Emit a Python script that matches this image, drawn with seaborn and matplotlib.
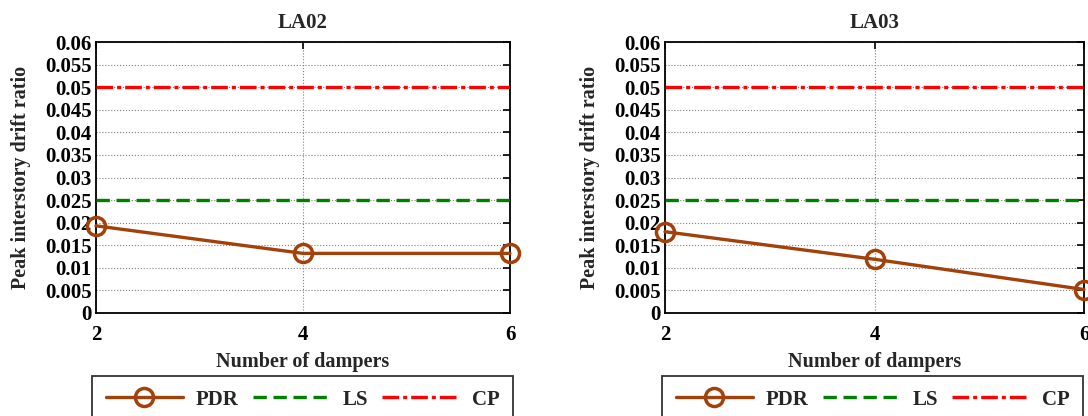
import numpy as np
import pandas as pd
import matplotlib
matplotlib.use("Agg")
import matplotlib.pyplot as plt
import seaborn as sns

# data
dampers = [2, 4, 6]
pdr_la02 = [0.0193, 0.0132, 0.0132]
pdr_la03 = [0.0180, 0.0119, 0.0052]
ls_limit = 0.025
cp_limit = 0.05
titles = ["LA02", "LA03"]
yticks = [0, 0.005, 0.01, 0.015, 0.02, 0.025, 0.03, 0.035, 0.04, 0.045, 0.05, 0.055, 0.06]
ytick_labels = ["0", "0.005", "0.01", "0.015", "0.02", "0.025", "0.03", "0.035",
                "0.04", "0.045", "0.05", "0.055", "0.06"]

sns.set_theme(style="white")
plt.rcParams['font.family'] = ['Liberation Serif', 'DejaVu Serif']
plt.rcParams['font.weight'] = 'bold'
plt.rcParams['axes.labelweight'] = 'bold'
plt.rcParams['axes.titleweight'] = 'bold'

W, H = 1088, 416
fig = plt.figure(figsize=(W / 100, H / 100), dpi=100)

# axes boxes in pixels: (left, top, right, bottom)
boxes = [(96, 42, 510, 313), (665, 42, 1084, 313)]
legend_anchor = [(92, 376), (662, 376)]

brown = '#A3410B'
for i, (title, pdr) in enumerate(zip(titles, [pdr_la02, pdr_la03])):
    l, t, r, b = boxes[i]
    ax = fig.add_axes([l / W, 1 - b / H, (r - l) / W, (b - t) / H])
    df = pd.DataFrame({'Dampers': dampers, 'PDR': pdr})

    ax.axhline(cp_limit, color='#FF0000', lw=2.4, dashes=(5, 1.2, 1.2, 1.2), label='CP', zorder=3)
    ax.axhline(ls_limit, color='#008000', lw=2.4, dashes=(4, 2), label='LS', zorder=3)
    sns.lineplot(data=df, x='Dampers', y='PDR', ax=ax, color=brown, lw=2.4,
                 marker='o', markersize=13, markerfacecolor='none',
                 markeredgecolor=brown, markeredgewidth=2.5, clip_on=False,
                 label='PDR', zorder=4, legend=False)

    ax.set_xlim(2, 6)
    ax.set_ylim(0, 0.06)
    ax.set_xticks(dampers)
    ax.set_yticks(yticks)
    ax.set_yticklabels(ytick_labels)
    ax.grid(True, color='#808080', linestyle=':', linewidth=0.8)
    ax.tick_params(direction='in', length=5, width=1.2, top=True, right=True,
                   labelsize=15, pad=3, colors='black')
    ax.tick_params(axis='x', pad=9)
    for s in ax.spines.values():
        s.set_color('black')
        s.set_linewidth(1.3)

    ax.set_title(title, fontsize=15, fontweight='bold', pad=10)
    ax.set_xlabel('Number of dampers', fontsize=14.5, labelpad=5)
    ax.set_ylabel('Peak interstory drift ratio', fontsize=14.5, labelpad=10)

    handles, labels = ax.get_legend_handles_labels()
    order = [labels.index(k) for k in ['PDR', 'LS', 'CP']]
    lx, ly = legend_anchor[i]
    leg = fig.legend([handles[k] for k in order], [labels[k] for k in order],
                     loc='upper left', ncol=3,
                     bbox_to_anchor=(lx / W, 1 - ly / H), borderaxespad=0,
                     frameon=True, fancybox=False, edgecolor='black',
                     handlelength=3.7, borderpad=0.65,
                     columnspacing=0.7, handletextpad=0.6,
                     prop={'weight': 'bold', 'size': 15})
    leg.get_frame().set_linewidth(1.3)

fig.savefig('out.png', dpi=100)
